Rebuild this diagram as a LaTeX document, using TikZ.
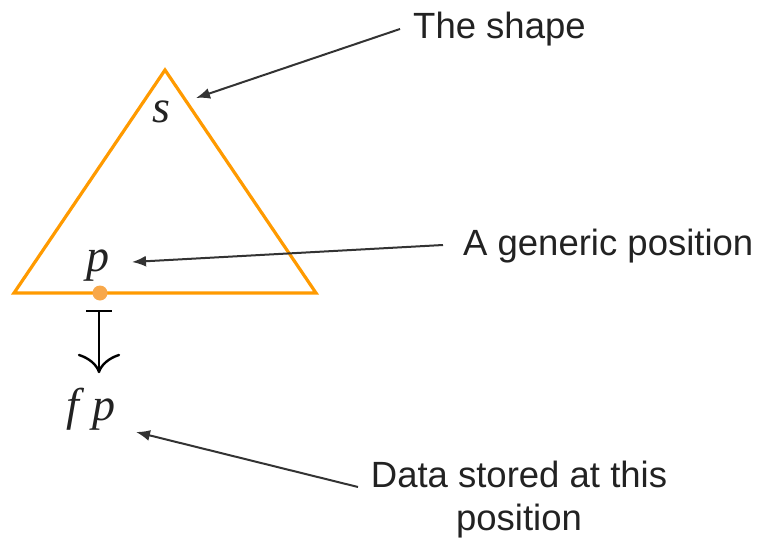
\documentclass[tikz,border=0pt]{standalone}
\usepackage{fontspec}
\setmainfont{Liberation Sans}
\newfontfamily\varserif{Liberation Serif}[UprightFont=*-Italic]
\usetikzlibrary{arrows.meta}
\definecolor{shapeorange}{HTML}{FF9A00}
\definecolor{dotorange}{HTML}{F8A84A}
\definecolor{arrowgray}{HTML}{333333}
\definecolor{textdark}{HTML}{222222}
\tikzset{
  lbl/.style={font=\fontsize{36.5}{43}\selectfont, text=textdark, inner sep=0pt, align=center},
  mathvar/.style={font={\fontsize{46}{50}\varserif\selectfont}, text=textdark, inner sep=0pt},
  pointer/.style={draw=arrowgray, line width=2pt, -{Latex[length=14pt,width=11pt]}},
  tri/.style={draw=shapeorange, line width=3.2pt, line join=miter},
  mapsline/.style={draw=black, line width=2.4pt},
}
\begin{document}
\begin{tikzpicture}[x=1pt,y=-1pt]
\useasboundingbox (0,0) rectangle (760,538);
% triangle
\coordinate (apex) at (165,70);
\coordinate (bl) at (14,293);
\coordinate (br) at (316,293);
\draw[tri] (bl) -- (apex) -- (br) -- cycle;
\fill[dotorange] (100,293) circle (7.5);
% variables
\node[mathvar, anchor=base] (s) at (161,122) {s};
\node[mathvar, anchor=base] (p) at (98,271) {p};
\node[mathvar, anchor=base west] (fp) at (66,420) {f\hspace{14pt}p};
% maps-to arrow
\coordinate (mtop) at (99,311);
\coordinate (mbot) at (99,372);
\draw[mapsline, line cap=butt] (mtop) -- (mbot);
\draw[mapsline] ([xshift=-13]mtop) -- ([xshift=13]mtop);
\draw[mapsline, line cap=round, line join=round]
  ([xshift=-20,yshift=17]mbot) .. controls ([xshift=-10,yshift=14]mbot) and ([xshift=-2,yshift=7]mbot) .. (mbot)
  .. controls ([xshift=2,yshift=7]mbot) and ([xshift=10,yshift=14]mbot) .. ([xshift=20,yshift=17]mbot);
% labels
\node[lbl, anchor=base west] (shape) at (413,38) {The shape};
\node[lbl, anchor=base west] (gen) at (463,255) {A generic position};
\node[lbl, anchor=base] (data) at (519,530) {Data stored at this\\position};
% pointers
\coordinate (sa) at (400,29);
\coordinate (sb) at (196,98);
\coordinate (ga) at (443,245);
\coordinate (gb) at (132,262);
\coordinate (da) at (358,487);
\coordinate (db) at (136,432);
\draw[pointer] (sa) -- (sb);
\draw[pointer] (ga) -- (gb);
\draw[pointer] (da) -- (db);
\end{tikzpicture}
\end{document}
